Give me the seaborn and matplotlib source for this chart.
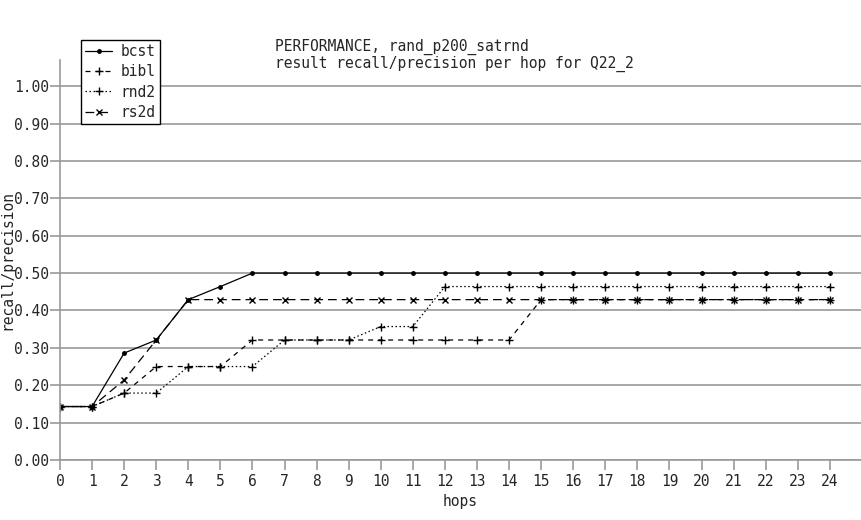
import numpy as np
import pandas as pd
import matplotlib
matplotlib.use('Agg')
import matplotlib.pyplot as plt
import seaborn as sns

hops = list(range(25))
bcst = [0.143, 0.143, 0.286, 0.321, 0.429, 0.464] + [0.5] * 19
bibl = [0.143, 0.143, 0.179, 0.25, 0.25, 0.25] + [0.321] * 9 + [0.429] * 10
rnd2 = [0.143, 0.143, 0.179, 0.179, 0.25, 0.25, 0.25, 0.321, 0.321, 0.321,
        0.357, 0.357] + [0.464] * 13
rs2d = [0.143, 0.143, 0.214, 0.321] + [0.429] * 21

series = {'bcst': bcst, 'bibl': bibl, 'rnd2': rnd2, 'rs2d': rs2d}
styles = {
    'bcst': dict(marker='o', markersize=2.5, ls='-'),
    'bibl': dict(marker='+', markersize=5.5, ls=(0, (4, 4))),
    'rnd2': dict(marker='+', markersize=5.5, ls=(0, (1.2, 2))),
    'rs2d': dict(marker='x', markersize=5, ls=(0, (7, 4))),
}

sns.set_style('white')
plt.rcParams['font.family'] = ['DejaVu Sans Mono']
grey = '#999999'

fig = plt.figure(figsize=(8.62, 5.2), dpi=100)
ax = fig.add_axes([60 / 862, 60 / 520, 801 / 862, 400 / 520])

for name, vals in series.items():
    st = styles[name]
    sns.lineplot(x=hops, y=vals, ax=ax, color='black', linewidth=0.9,
                 linestyle=st['ls'], marker=st['marker'],
                 markersize=st['markersize'], markeredgewidth=1,
                 markeredgecolor='black', markerfacecolor='black', label=name)

ax.set_xlim(0, 24.97)
ax.set_ylim(0, 1.07)
ax.set_xticks(hops)
ax.set_yticks(np.arange(0, 1.01, 0.1))
ax.set_yticklabels([f'{v:.2f}' for v in np.arange(0, 1.01, 0.1)])
ax.yaxis.grid(True, color=grey, linewidth=1.2)
ax.set_axisbelow(True)
for side in ['top', 'right']:
    ax.spines[side].set_visible(False)
for side in ['left', 'bottom']:
    ax.spines[side].set_color(grey)
    ax.spines[side].set_linewidth(1.2)
ax.tick_params(axis='both', which='major', length=7, width=1.2, color=grey,
               labelsize=10.5, pad=1, direction='out')
ax.tick_params(axis='x', pad=3)
ax.tick_params(left=True, bottom=True)

ax.set_xlabel('hops', fontsize=10.5, labelpad=4)
ax.set_ylabel('recall/precision', fontsize=10.5)
ax.yaxis.set_label_coords(-0.057, 0.5)

fig.text(275 / 862, 1 - 47 / 520, 'PERFORMANCE, rand_p200_satrnd', fontsize=10.5,
         va='center', ha='left')
fig.text(275 / 862, 1 - 64 / 520, 'result recall/precision per hop for Q22_2',
         fontsize=10.5, va='center', ha='left')

leg = ax.legend(loc='upper left', bbox_to_anchor=(21 / 801, 1.05), frameon=True,
                fancybox=False, edgecolor='black', fontsize=10.5,
                handlelength=1.8, handletextpad=0.6, borderpad=0.3,
                labelspacing=0.35, borderaxespad=0)
leg.get_frame().set_linewidth(1)
leg.get_frame().set_facecolor('white')
leg.get_frame().set_alpha(1)

fig.savefig('out.png', dpi=100)
